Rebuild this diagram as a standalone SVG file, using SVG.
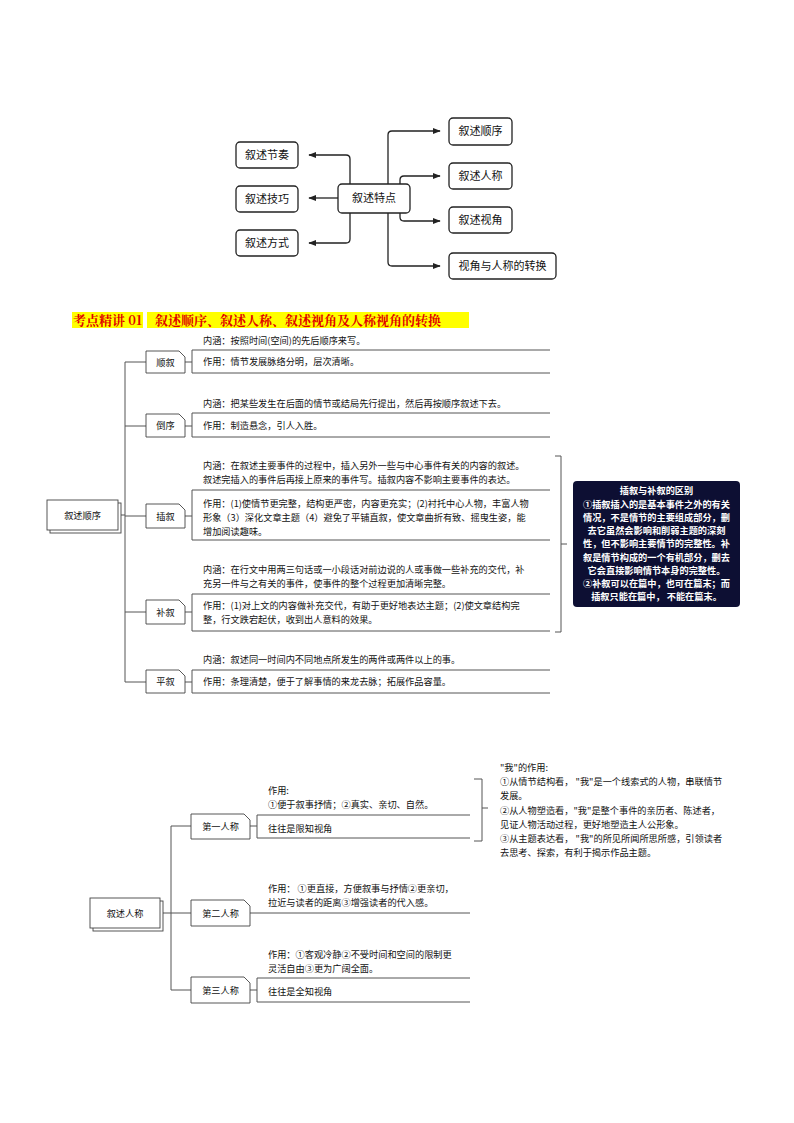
<svg xmlns="http://www.w3.org/2000/svg" width="794" height="1123" viewBox="0 0 794 1123">
<defs>
<style>
text{font-family:"Noto Sans CJK SC","Noto Sans",sans-serif;fill:#111;}
.t{font-size:11px;}
.s{font-size:9.2px;}
.w{font-size:9.2px;fill:#fff;font-weight:bold;}
.rb{fill:#fff;stroke:#222;stroke-width:1.3;}
.ln{fill:none;stroke:#222;stroke-width:1.3;}
.gl{fill:none;stroke:#555;stroke-width:1;}
.nb{fill:#fff;stroke:#444;stroke-width:0.9;}
</style>
<marker id="a" viewBox="0 0 10 10" refX="9" refY="5" markerWidth="6" markerHeight="6" orient="auto"><path d="M0,1 L10,5 L0,9 z" fill="#222"/></marker>
</defs>
<rect width="794" height="1123" fill="#fff"/>

<g id="connectors">
<path class="ln" d="M350,184 V159 Q350,155 346,155 H309" marker-end="url(#a)"/>
<path class="ln" d="M338,198 H309" marker-end="url(#a)"/>
<path class="ln" d="M350,213 V239 Q350,243 346,243 H309" marker-end="url(#a)"/>
<path class="ln" d="M388,184 V135 Q388,131 392,131 H440" marker-end="url(#a)"/>
<path class="ln" d="M400,184 V180 Q400,176 404,176 H440" marker-end="url(#a)"/>
<path class="ln" d="M400,213 V217 Q400,221 404,221 H440" marker-end="url(#a)"/>
<path class="ln" d="M388,213 V262 Q388,266 392,266 H440" marker-end="url(#a)"/>
<!-- section 1 -->
<path class="gl" d="M118,515 H125 M125,362 V682 M125,362 H146 M125,426 H146 M125,516 H146 M125,612 H146 M125,682 H146"/>
<path class="gl" d="M185,362 H192 M185,426 H192 M185,516 H192 M185,612 H192 M185,682 H192"/>
<path class="gl" d="M550,350 H192 V373 H550 M550,413 H192 V437 H550 M550,490 H192 V540 H550 M550,594 H192 V631 H550 M550,670 H192 V693 H550"/>
<path class="gl" d="M555,456 H561 V632 H555 M561,544 H567"/>
<!-- section 2 -->
<path class="gl" d="M160,913 H171 M171,826 V990 M171,826 H191 M171,913 H191 M171,990 H191"/>
<path class="gl" d="M250,826 H257 M250,990 H257 M250,913 H470"/>
<path class="gl" d="M470,815 H257 V838 H470 M470,978 H257 V1002 H470"/>
<path class="gl" d="M474,779 H482 V841 H474 M482,808 H488"/>
</g>

<g id="n-center"><rect class="rb" x="338" y="184" width="72" height="29" rx="4"/><text class="t" x="374" y="202" text-anchor="middle">叙述特点</text></g>
<g id="n-jiezou"><rect class="rb" x="236" y="142" width="62" height="26" rx="4"/><text class="t" x="267" y="159" text-anchor="middle">叙述节奏</text></g>
<g id="n-jiqiao"><rect class="rb" x="236" y="186" width="62" height="26" rx="4"/><text class="t" x="267" y="203" text-anchor="middle">叙述技巧</text></g>
<g id="n-fangshi"><rect class="rb" x="236" y="230" width="62" height="26" rx="4"/><text class="t" x="267" y="247" text-anchor="middle">叙述方式</text></g>
<g id="n-shunxu"><rect class="rb" x="449" y="118" width="63" height="27" rx="4"/><text class="t" x="480.5" y="135" text-anchor="middle">叙述顺序</text></g>
<g id="n-rencheng"><rect class="rb" x="449" y="163" width="63" height="26" rx="4"/><text class="t" x="480.5" y="180" text-anchor="middle">叙述人称</text></g>
<g id="n-shijiao"><rect class="rb" x="449" y="207" width="63" height="26" rx="4"/><text class="t" x="480.5" y="224" text-anchor="middle">叙述视角</text></g>
<g id="n-zhuanhuan"><rect class="rb" x="449" y="253" width="107" height="26" rx="4"/><text class="t" x="502.5" y="270" text-anchor="middle">视角与人称的转换</text></g>

<g id="title">
<rect x="72" y="312" width="71" height="16" fill="#ffff00"/>
<rect x="147" y="312" width="322" height="16" fill="#ffff00"/>
<text x="73" y="325" style="font-family:'Noto Serif CJK SC','Noto Sans CJK SC',serif;font-size:13px;font-weight:bold;fill:#e00000">考点精讲 01　叙述顺序、叙述人称、叙述视角及人称视角的转换</text>
</g>

<g id="n-xushushunxu"><rect class="nb" x="50" y="503" width="71" height="30"/><rect class="nb" x="47" y="500" width="71" height="30"/><text class="s" x="82.5" y="519" text-anchor="middle">叙述顺序</text></g>
<g id="n-shunxu2"><path class="nb" d="M146,351 H179 L185,357 V373 H146 Z"/><text class="s" x="165.5" y="366" text-anchor="middle">顺叙</text></g>
<g id="n-daoxu"><path class="nb" d="M146,414 H179 L185,420 V437 H146 Z"/><text class="s" x="165.5" y="429" text-anchor="middle">倒序</text></g>
<g id="n-chaxu"><path class="nb" d="M146,504 H179 L185,510 V528 H146 Z"/><text class="s" x="165.5" y="520" text-anchor="middle">插叙</text></g>
<g id="n-buxu"><path class="nb" d="M146,600 H179 L185,606 V624 H146 Z"/><text class="s" x="165.5" y="616" text-anchor="middle">补叙</text></g>
<g id="n-pingxu"><path class="nb" d="M146,670 H179 L185,676 V693 H146 Z"/><text class="s" x="165.5" y="685" text-anchor="middle">平叙</text></g>

<g id="c-shunxu"><text class="s" x="203" y="344">内涵：按照时间(空间)的先后顺序来写。</text><text class="s" x="203" y="365">作用：情节发展脉络分明，层次清晰。</text></g>
<g id="c-daoxu"><text class="s" x="203" y="407">内涵：把某些发生在后面的情节或结局先行提出，然后再按顺序叙述下去。</text><text class="s" x="203" y="429">作用：制造悬念，引人入胜。</text></g>
<g id="c-chaxu"><text class="s" x="203" y="469">内涵：在叙述主要事件的过程中，插入另外一些与中心事件有关的内容的叙述。</text><text class="s" x="203" y="483">叙述完插入的事件后再接上原来的事件写。插叙内容不影响主要事件的表达。</text><text class="s" x="203" y="507">作用：(1)使情节更完整，结构更严密，内容更充实；(2)衬托中心人物，丰富人物</text><text class="s" x="203" y="521">形象（3）深化文章主题（4）避免了平铺直叙，使文章曲折有致、摇曳生姿，能</text><text class="s" x="203" y="535">增加阅读趣味。</text></g>
<g id="c-buxu"><text class="s" x="203" y="573">内涵：在行文中用两三句话或一小段话对前边说的人或事做一些补充的交代，补</text><text class="s" x="203" y="587">充另一件与之有关的事件，使事件的整个过程更加清晰完整。</text><text class="s" x="203" y="609">作用：(1)对上文的内容做补充交代，有助于更好地表达主题；(2)使文章结构完</text><text class="s" x="203" y="623">整，行文跌宕起伏，收到出人意料的效果。</text></g>
<g id="c-pingxu"><text class="s" x="203" y="663">内涵：叙述同一时间内不同地点所发生的两件或两件以上的事。</text><text class="s" x="203" y="685">作用：条理清楚，便于了解事情的来龙去脉；拓展作品容量。</text></g>

<g id="n-diff"><rect x="573" y="481" width="167" height="126" rx="4" fill="#0d0f33"/>
<text class="w" x="656.5" y="494" text-anchor="middle">插叙与补叙的区别</text>
<text class="w" x="656.5" y="508" text-anchor="middle">①插叙插入的是基本事件之外的有关</text>
<text class="w" x="656.5" y="521" text-anchor="middle">情况，不是情节的主要组成部分，删</text>
<text class="w" x="656.5" y="534" text-anchor="middle">去它虽然会影响和削弱主题的深刻</text>
<text class="w" x="656.5" y="547" text-anchor="middle">性，但不影响主要情节的完整性。补</text>
<text class="w" x="656.5" y="561" text-anchor="middle">叙是情节构成的一个有机部分，删去</text>
<text class="w" x="656.5" y="574" text-anchor="middle">它会直接影响情节本身的完整性。</text>
<text class="w" x="656.5" y="587" text-anchor="middle">②补叙可以在篇中，也可在篇末；而</text>
<text class="w" x="656.5" y="600" text-anchor="middle">插叙只能在篇中， 不能在篇末。</text></g>

<g id="n-xushurencheng"><rect class="nb" x="93" y="901" width="70" height="30"/><rect class="nb" x="90" y="898" width="70" height="30"/><text class="s" x="125" y="917" text-anchor="middle">叙述人称</text></g>
<g id="n-di1"><path class="nb" d="M191,814 H244 L250,820 V839 H191 Z"/><text class="s" x="220.5" y="830" text-anchor="middle">第一人称</text></g>
<g id="n-di2"><path class="nb" d="M191,900 H244 L250,906 V926 H191 Z"/><text class="s" x="220.5" y="917" text-anchor="middle">第二人称</text></g>
<g id="n-di3"><path class="nb" d="M191,977 H244 L250,983 V1003 H191 Z"/><text class="s" x="220.5" y="994" text-anchor="middle">第三人称</text></g>

<g id="c-di1"><text class="s" x="268" y="794">作用:</text><text class="s" x="268" y="808">①便于叙事抒情；②真实、亲切、自然。</text><text class="s" x="268" y="832">往往是限知视角</text></g>
<g id="c-di2"><text class="s" x="268" y="892">作用： ①更直接，方便叙事与抒情②更亲切，</text><text class="s" x="268" y="906">拉近与读者的距离③增强读者的代入感。</text></g>
<g id="c-di3"><text class="s" x="268" y="958">作用：①客观冷静②不受时间和空间的限制更</text><text class="s" x="268" y="972">灵活自由③更为广阔全面。</text><text class="s" x="268" y="995">往往是全知视角</text></g>
<g id="c-wo"><text class="s" x="500" y="771">"我"的作用:</text><text class="s" x="500" y="785">①从情节结构看， "我"是一个线索式的人物，串联情节</text><text class="s" x="500" y="799">发展。</text><text class="s" x="500" y="814">②从人物塑造看，"我"是整个事件的亲历者、陈述者，</text><text class="s" x="500" y="828">见证人物活动过程，更好地塑造主人公形象。</text><text class="s" x="500" y="842">③从主题表达看， "我"的所见所闻所思所感，引领读者</text><text class="s" x="500" y="856">去思考、探索，有利于揭示作品主题。</text></g>
</svg>
